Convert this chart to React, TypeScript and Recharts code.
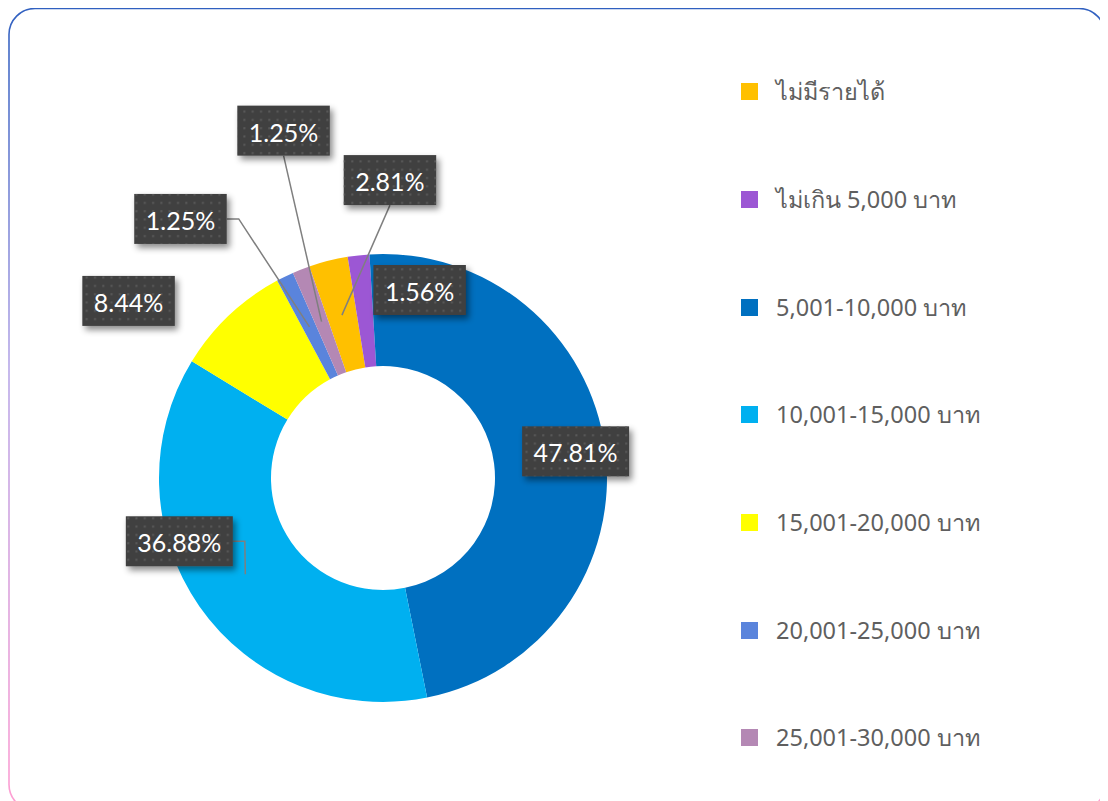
import { PieChart, Pie, Cell, Legend } from 'recharts'

const categories = [
  'ไม่มีรายได้',
  'ไม่เกิน 5,000 บาท',
  '5,001-10,000 บาท',
  '10,001-15,000 บาท',
  '15,001-20,000 บาท',
  '20,001-25,000 บาท',
  '25,001-30,000 บาท',
]
const shares = [2.81, 1.56, 47.81, 36.88, 8.44, 1.25, 1.25]
const sliceColors = ['#FFC000', '#9C57D4', '#0070C0', '#00B0F0', '#FFFF00', '#5A84DC', '#B488B4']

const data = categories.map((name, i) => ({ name, value: shares[i] }))

// label box placement, relative to the middle of each ring segment
const labelOffsets = [[48, -135], [55, -21], [26, -5], [-66, -33], [-139, -55], [-129, -108], [-38, -191]]
const leaderKind = ['bottom', 'none', 'none', 'side', 'none', 'side', 'bottom']

const W = 1100
const H = 793
const CX = 375
const CY = 470
const R_OUT = 224
const R_IN = 112
const RADIAN = Math.PI / 180

function textWidth(s: string) {
  let w = 0
  for (const ch of s) w += ch === '.' ? 6 : ch === '%' ? 21 : 14.5
  return w
}

function renderLabel(props: any) {
  const { cx, cy, midAngle, innerRadius, outerRadius, index, value } = props
  const r = (innerRadius + outerRadius) / 2
  const ax = cx + r * Math.cos(-midAngle * RADIAN)
  const ay = cy + r * Math.sin(-midAngle * RADIAN)
  const [ox, oy] = labelOffsets[index]
  const bx = ax + ox
  const by = ay + oy
  const text = `${Number(value).toFixed(2)}%`
  const bw = textWidth(text) + 22
  const bh = 50
  const kind = leaderKind[index]
  let line = null
  if (kind === 'bottom') {
    line = <polyline points={`${ax},${ay} ${bx},${by + bh / 2}`} fill="none" stroke="#7f7f7f" strokeWidth={1.5} />
  } else if (kind === 'side') {
    const ex = bx + bw / 2
    line = <polyline points={`${ax},${ay} ${ex + 12},${by} ${ex},${by}`} fill="none" stroke="#7f7f7f" strokeWidth={1.5} />
  }
  return (
    <g key={`lbl-${index}`}>
      {line}
      <rect x={bx - bw / 2} y={by - bh / 2} width={bw} height={bh} fill="#404040" filter="url(#boxShadow)" />
      <rect x={bx - bw / 2} y={by - bh / 2} width={bw} height={bh} fill="url(#dots)" />
      <text x={bx} y={by + 1} fill="#ffffff" textAnchor="middle" dominantBaseline="central"
        style={{ fontFamily: 'Lato, "Open Sans", sans-serif', fontSize: 25 }}>
        {text}
      </text>
    </g>
  )
}

function renderLegend() {
  return (
    <div style={{ width: 360 }}>
      {categories.map((c, i) => (
        <div key={c} style={{ height: 107.67, display: 'flex', alignItems: 'center' }}>
          <span style={{ width: 17, height: 17, background: sliceColors[i], display: 'inline-block', marginRight: 18 }} />
          <span style={{ fontFamily: '"Noto Sans", "Open Sans", sans-serif', fontSize: 23.5, color: '#5f5f5f' }}>{c}</span>
        </div>
      ))}
    </div>
  )
}

export default function App() {
  return (
    <div style={{ position: 'relative', width: W, height: H, overflow: 'hidden' }}>
      <svg width={W} height={H} style={{ position: 'absolute', left: 0, top: 0 }}>
        <defs>
          <linearGradient id="frameGrad" x1="0" y1="0" x2="0" y2="1">
            <stop offset="0%" stopColor="#3060C0" />
            <stop offset="45%" stopColor="#B8A8E8" />
            <stop offset="100%" stopColor="#FF9ED2" />
          </linearGradient>
          <pattern id="dots" x="0" y="0" width="8.3" height="8.3" patternUnits="userSpaceOnUse">
            <rect x="3" y="3" width="2" height="2" fill="#5a5a5a" />
          </pattern>
          <filter id="boxShadow" x="-20%" y="-20%" width="150%" height="160%">
            <feDropShadow dx="3" dy="4" stdDeviation="3" floodColor="#000" floodOpacity="0.45" />
          </filter>
        </defs>
        <rect x={1} y={0.5} width={1096} height={802} rx={26} ry={26} fill="#ffffff" stroke="url(#frameGrad)" strokeWidth={1.6} />
      </svg>
      <div style={{ position: 'absolute', left: 0, top: 0 }}>
        <PieChart width={W} height={H} margin={{ top: 0, right: 0, bottom: 0, left: 0 }}>
          <Pie
            data={data}
            dataKey="value"
            nameKey="name"
            cx={CX}
            cy={CY}
            innerRadius={R_IN}
            outerRadius={R_OUT}
            startAngle={109.2}
            endAngle={-250.8}
            stroke="none"
            label={renderLabel}
            labelLine={false}
            isAnimationActive={false}
          >
            {data.map((entry, index) => (
              <Cell key={`cell-${index}`} fill={sliceColors[index]} />
            ))}
          </Pie>
          <Legend
            content={renderLegend}
            layout="vertical"
            verticalAlign="top"
            align="right"
            wrapperStyle={{ left: 733, top: 30, width: 360 }}
          />
        </PieChart>
      </div>
    </div>
  )
}
